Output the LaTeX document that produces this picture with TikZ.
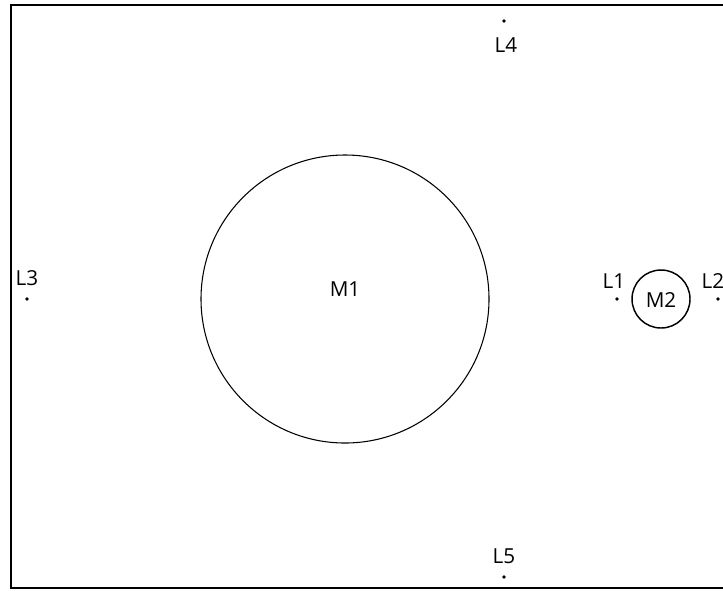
\documentclass[tikz,border=0pt]{standalone}
\usepackage{fontspec}
\setmainfont{Open Sans}
\begin{document}
\begin{tikzpicture}[x=0.75pt,y=-0.75pt,
  lbl/.style={font=\fontsize{15.5}{18}\selectfont, inner sep=0pt},
  pt/.style={circle, fill=black, inner sep=0pt, minimum size=2.8pt},
  body/.style={circle, draw=black, line width=0.8pt, inner sep=0pt}]
\useasboundingbox (0,0) rectangle (723,590);
\fill[white] (0,0) rectangle (723,590);
\coordinate (fr1) at (723,5);
\coordinate (fr2) at (11,5);
\coordinate (fr3) at (11,588);
\coordinate (fr4) at (723,588);
\draw[line width=1pt] (fr1) -- (fr2) -- (fr3) -- (fr4);
\node[body, minimum size=216pt] (M1) at (345,299) {};
\node[lbl] (M1t) at (345,289) {M1};
\node[body, minimum size=43.5pt, line width=1.1pt] (M2) at (661,299) {};
\node[lbl] (M2t) at (661,300) {M2};
\node[pt] (L1) at (617,299) {};
\node[lbl] (L1t) at (614,281) {L1};
\node[pt] (L2) at (718,299) {};
\node[lbl] (L2t) at (713,281) {L2};
\node[pt] (L3) at (27,299) {};
\node[lbl] (L3t) at (27,278) {L3};
\node[pt] (L4) at (504,21) {};
\node[lbl] (L4t) at (506,45) {L4};
\node[pt] (L5) at (504,577) {};
\node[lbl] (L5t) at (504,556) {L5};
\end{tikzpicture}
\end{document}
